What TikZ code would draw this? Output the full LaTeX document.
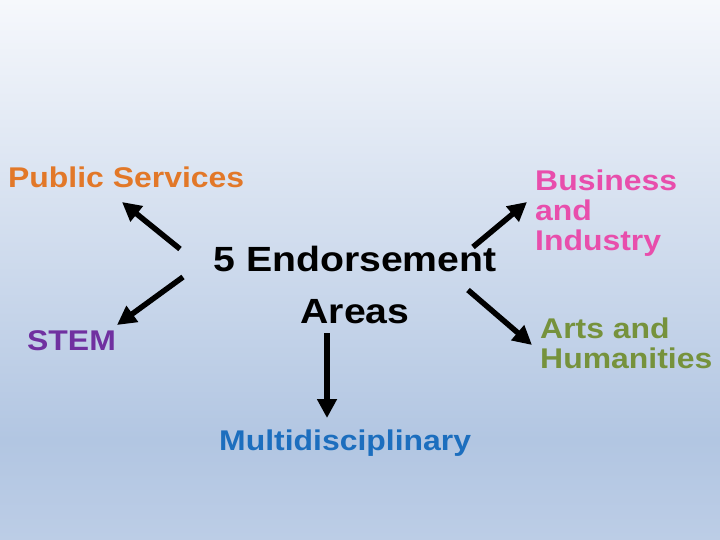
\documentclass[tikz,border=0pt]{standalone}
\usepackage{fontspec}
\setmainfont{Liberation Sans}[FakeStretch=1.12]
\usetikzlibrary{arrows.meta}
\definecolor{bgtop}{RGB}{246,248,252}
\definecolor{bgmid}{RGB}{178,198,226}
\definecolor{bgbot}{RGB}{188,205,230}
\definecolor{psorange}{RGB}{226,120,40}
\definecolor{stempurple}{RGB}{112,48,160}
\definecolor{bipink}{RGB}{232,78,172}
\definecolor{ahgreen}{RGB}{118,146,60}
\definecolor{mdblue}{RGB}{28,110,190}

\begin{document}
\begin{tikzpicture}[x=1pt,y=-1pt,>={Triangle[length=19pt,width=19pt]}]
  \tikzstyle{area}=[inner sep=0pt,align=left,font=\bfseries\fontsize{28.5}{29.5}\selectfont]
  \tikzstyle{arr}=[line width=5.5pt,->]
  \shade[top color=bgtop,bottom color=bgmid] (0,0) rectangle (720,440);
  \shade[top color=bgmid,bottom color=bgbot] (0,439.5) rectangle (720,540);
  \useasboundingbox (0,0) rectangle (720,540);
  \node[area,anchor=base,align=center,font=\bfseries\fontsize{35}{52}\selectfont] (end) at (355,323) {5 Endorsement\\Areas};
  \node[area,anchor=base west,text=psorange] (ps) at (8,188) {Public Services};
  \node[area,anchor=base west,text=stempurple] (stem) at (27,350) {STEM};
  \node[area,anchor=base west,text=bipink] (bi) at (535,250) {Business\\and\\Industry};
  \node[area,anchor=base west,text=ahgreen] (ah) at (540,368) {Arts and\\Humanities};
  \node[area,anchor=base west,text=mdblue] (md) at (219,450) {Multidisciplinary};
  \coordinate (psfrom) at (180,249);
  \coordinate (psto) at (122,202);
  \coordinate (stemfrom) at (183,277);
  \coordinate (stemto) at (117,325);
  \coordinate (bifrom) at (473,247);
  \coordinate (bito) at (527,202);
  \coordinate (ahfrom) at (468,290);
  \coordinate (ahto) at (532,345);
  \coordinate (mdfrom) at (327,333);
  \coordinate (mdto) at (327,418);
  \draw[arr] (psfrom) -- (psto);
  \draw[arr] (stemfrom) -- (stemto);
  \draw[arr] (bifrom) -- (bito);
  \draw[arr] (ahfrom) -- (ahto);
  \draw[arr] (mdfrom) -- (mdto);
\end{tikzpicture}
\end{document}
